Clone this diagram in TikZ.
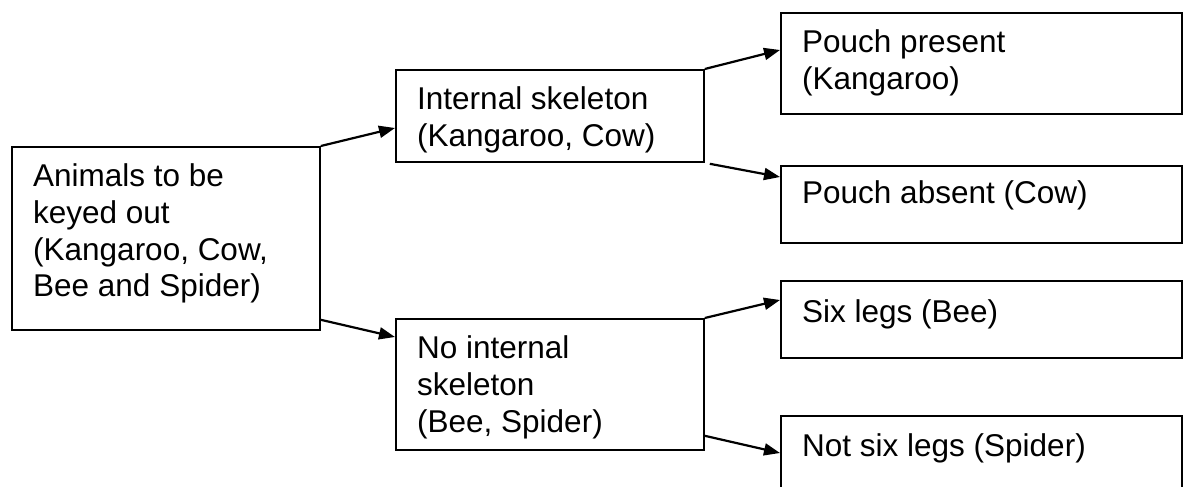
\documentclass[tikz,border=0pt]{standalone}
\usepackage{fontspec}
\setmainfont{Liberation Sans}
\usetikzlibrary{arrows.meta,calc}
\tikzset{
  box/.style={draw=black, line width=1.8pt, rectangle, inner sep=0pt, anchor=north west},
  txt/.style={anchor=north west, inner sep=0pt, align=left, font=\fontsize{31.5}{36.8}\selectfont},
  conn/.style={line width=2.2pt, -{Triangle[length=16pt,width=12pt]}}
}
\begin{document}
\begin{tikzpicture}[x=1pt,y=-1pt]
\clip (0,0) rectangle (1183,487);
\fill[white] (0,0) rectangle (1183,487);
% boxes
\node[box, minimum width=308pt, minimum height=183pt] (A) at (11,146) {};
\node[box, minimum width=308pt, minimum height=92pt] (B) at (395,69) {};
\node[box, minimum width=401pt, minimum height=101pt] (C) at (780,12) {};
\node[box, minimum width=401pt, minimum height=77pt] (D) at (780,165) {};
\node[box, minimum width=308pt, minimum height=131pt] (E) at (395,318) {};
\node[box, minimum width=401pt, minimum height=77pt] (F) at (780,280) {};
\node[box, minimum width=401pt, minimum height=90pt] (G) at (780,415) {};
% texts
\node[txt] (At) at ($(A.north west)+(22,17.5)$) {Animals to be\\keyed out\\(Kangaroo, Cow,\\Bee and Spider)};
\node[txt] (Bt) at ($(B.north west)+(22,17.5)$) {Internal skeleton\\(Kangaroo, Cow)};
\node[txt] (Ct) at ($(C.north west)+(22,17.5)$) {Pouch present\\(Kangaroo)};
\node[txt] (Dt) at ($(D.north west)+(22,15.5)$) {Pouch absent (Cow)};
\node[txt] (Et) at ($(E.north west)+(22,17.5)$) {No internal\\skeleton\\(Bee, Spider)};
\node[txt] (Ft) at ($(F.north west)+(22,19.5)$) {Six legs (Bee)};
\node[txt] (Gt) at ($(G.north west)+(22,18.5)$) {Not six legs (Spider)};
% connectors
\draw[conn] (A.north east) -- ($(B.north west)+(0,59)$);
\draw[conn] ($(A.south east)+(0,-11)$) -- ($(E.north west)+(0,19)$);
\draw[conn] (B.north east) -- ($(C.north west)+(0,38)$);
\draw[conn] ($(B.south east)+(5,1)$) -- ($(D.north west)+(0,12)$);
\draw[conn] (E.north east) -- ($(F.north west)+(0,20)$);
\draw[conn] ($(E.south east)+(0,-15)$) -- ($(G.north west)+(0,38)$);
\end{tikzpicture}
\end{document}
